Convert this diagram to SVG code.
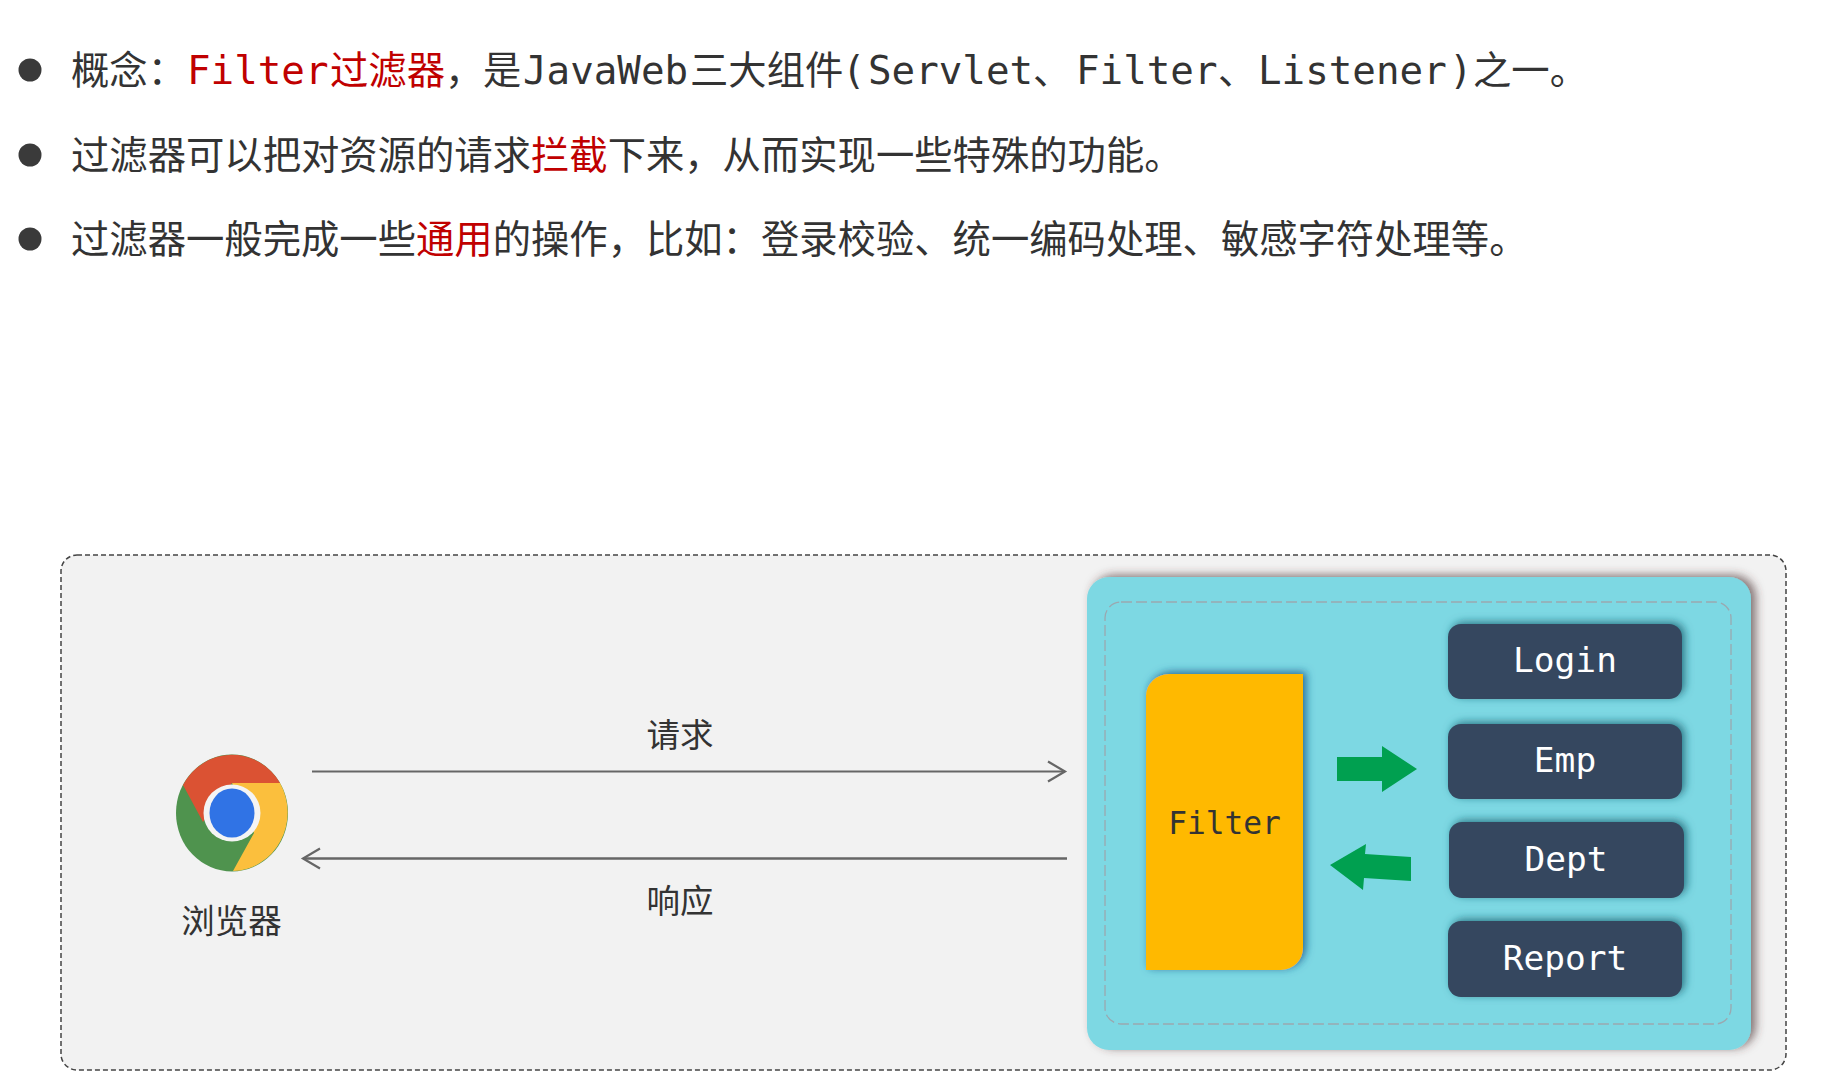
<svg xmlns="http://www.w3.org/2000/svg" width="1822" height="1092" viewBox="0 0 1822 1092">
<defs>
<style>
text{font-family:"Noto Sans CJK SC","Noto Sans",sans-serif;fill:#333}
.l{font-size:38.35px}
.m{font-family:"DejaVu Sans Mono","Liberation Mono",monospace;font-size:39.2px}
.r{fill:#c00000}
.lab{font-size:33.5px;text-anchor:middle}
.box{fill:#34475e;filter:url(#s2)}
.bt{font-family:"DejaVu Sans Mono","Liberation Mono",monospace;font-size:34.5px;fill:#fff;text-anchor:middle}
.conn{fill:none;stroke:#666;stroke-width:2.2;marker-end:url(#open)}
.ga{fill:#00a050}
</style>
<marker id="open" markerUnits="userSpaceOnUse" markerWidth="24" markerHeight="26" refX="20" refY="12" orient="auto">
<path d="M3,2 L20,12 L3,22" fill="none" stroke="#666" stroke-width="2.2"/>
</marker>
<filter id="s1" x="-5%" y="-5%" width="112%" height="112%"><feDropShadow dx="5" dy="-2" stdDeviation="5" flood-color="#4a3030" flood-opacity=".65"/></filter>
<filter id="s2" x="-10%" y="-20%" width="125%" height="140%"><feDropShadow dx="3" dy="-2" stdDeviation="4" flood-color="#1f6070" flood-opacity=".8"/></filter>
<filter id="s3" x="-10%" y="-5%" width="125%" height="112%"><feDropShadow dx="3" dy="-2" stdDeviation="4" flood-color="#1f5f90" flood-opacity=".9"/></filter>
</defs>
<rect width="1822" height="1092" fill="#fff"/>

<g id="bullets">
<circle cx="30" cy="70" r="11.5" fill="#3a3a3a"/>
<circle cx="30" cy="155" r="11.5" fill="#3a3a3a"/>
<circle cx="30" cy="239" r="11.5" fill="#3a3a3a"/>
</g>
<g id="line1">
<text class="l" y="84">
<tspan x="71">概念&#xFF1A;</tspan>
<tspan x="187" class="m r">Filter</tspan><tspan x="330" class="r">过滤器</tspan><tspan x="445">&#xFF0C;</tspan><tspan x="483">是</tspan>
<tspan x="523" class="m">JavaWeb</tspan><tspan x="690">三大组件</tspan><tspan x="842" class="m">(</tspan><tspan x="868" class="m">Servlet</tspan><tspan x="1033">、</tspan>
<tspan x="1076" class="m">Filter</tspan><tspan x="1218">、</tspan><tspan x="1258" class="m">Listener</tspan><tspan x="1449" class="m">)</tspan><tspan x="1473">之一。</tspan>
</text>
</g>
<g id="line2">
<text class="l" x="71" y="169">过滤器可以把对资源的请求<tspan class="r">拦截</tspan>下来&#xFF0C;从而实现一些特殊的功能。</text>
</g>
<g id="line3">
<text class="l" x="71" y="253">过滤器一般完成一些<tspan class="r">通用</tspan>的操作&#xFF0C;比如&#xFF1A;登录校验、统一编码处理、敏感字符处理等。</text>
</g>

<g id="outer">
<rect x="61" y="555" width="1725" height="515" rx="16" fill="#f2f2f2" stroke="#444" stroke-width="1.5" stroke-dasharray="5 3"/>
</g>
<g id="browser">
<ellipse cx="232" cy="813" rx="56" ry="58.5" fill="#4f934e"/>
<path d="M183,785 A56 58.5 0 0 1 280,783 L232,783 L203,822 Z" fill="#db5233"/>
<path d="M280,783 A56 58.5 0 0 1 233,871 L254,833 L232,783 Z" fill="#fbbf3d"/>
<circle cx="232" cy="813" r="28.5" fill="#f4f4f4"/>
<ellipse cx="232" cy="813" rx="22.5" ry="24.5" fill="#3073e5"/>
<text class="lab" x="231.5" y="933">浏览器</text>
</g>
<g id="server">
<rect x="1087" y="577" width="664" height="473" rx="22" fill="#7dd8e3" filter="url(#s1)"/>
<rect x="1105" y="602" width="626" height="422" rx="16" fill="none" stroke="#9aa8b0" stroke-width="1.3" stroke-dasharray="11 4"/>
</g>
<g id="filter">
<path d="M1169,674 H1303 V948 A22 22 0 0 1 1281,970 H1146 V696 A23 22 0 0 1 1169,674 Z" fill="#ffb900" filter="url(#s3)"/>
<text class="bt" x="1224.5" y="834" style="font-size:31.2px;fill:#333">Filter</text>
</g>
<g id="login"><rect class="box" x="1448" y="624" width="234" height="75" rx="13"/><text class="bt" x="1565" y="672">Login</text></g>
<g id="emp"><rect class="box" x="1448" y="724" width="234" height="75" rx="13"/><text class="bt" x="1565" y="772">Emp</text></g>
<g id="dept"><rect class="box" x="1449" y="822" width="235" height="76" rx="13"/><text class="bt" x="1566" y="871">Dept</text></g>
<g id="report"><rect class="box" x="1448" y="921" width="234" height="76" rx="13"/><text class="bt" x="1565" y="970">Report</text></g>

<g id="connectors">
<line class="conn" x1="312" y1="771.5" x2="1065" y2="771.5"/>
<line class="conn" x1="1067" y1="858.5" x2="303" y2="858.5" style="stroke-width:2.6"/>
<polygon class="ga" points="1337,757 1382,757 1382,746 1417,769 1382,792 1382,781 1337,781"/>
<polygon class="ga" points="1330,865 1366,844 1365,854 1411,857 1411,881 1364,878 1363,890"/>
<text class="lab" x="680" y="747">请求</text>
<text class="lab" x="680" y="913">响应</text>
</g>
</svg>
